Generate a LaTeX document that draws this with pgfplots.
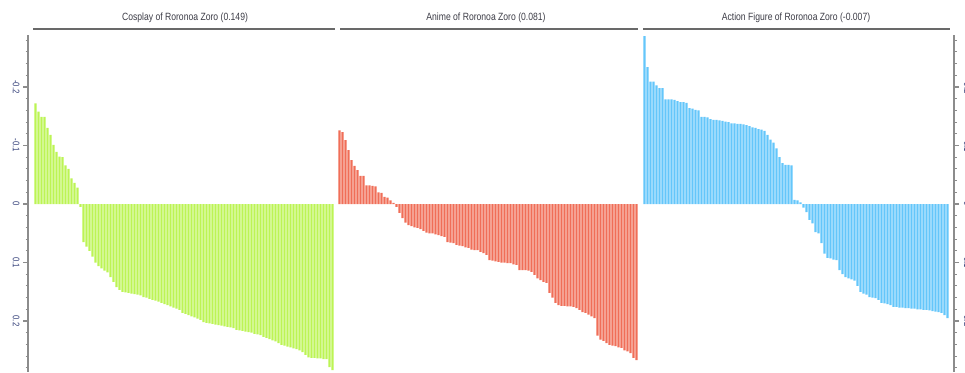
\documentclass[border=0pt]{standalone}
\usepackage{fontspec}
\setmainfont{Liberation Sans}
\newfontfamily\condensed[FakeStretch=0.82]{Liberation Sans}
\usepackage{pgfplots}
\usepackage{pgfplotstable}
\pgfplotsset{compat=1.18}
\definecolor{cgreen}{RGB}{188,244,84}
\definecolor{cred}{RGB}{240,110,88}
\definecolor{cblue}{RGB}{100,198,250}
\definecolor{axgray}{RGB}{140,140,140}
\definecolor{linegray}{RGB}{105,105,105}
\definecolor{lab}{RGB}{50,62,120}
\definecolor{ttl}{RGB}{60,60,70}

\pgfplotstableread{
v
-0.172
-0.158
-0.149
-0.149
-0.130
-0.118
-0.101
-0.089
-0.081
-0.080
-0.066
-0.060
-0.044
-0.036
-0.028
0.005
0.065
0.073
0.080
0.090
0.100
0.106
0.110
0.114
0.117
0.125
0.133
0.142
0.147
0.150
0.151
0.152
0.153
0.154
0.155
0.156
0.159
0.160
0.162
0.164
0.165
0.167
0.169
0.171
0.173
0.175
0.177
0.179
0.181
0.186
0.188
0.190
0.192
0.194
0.196
0.198
0.202
0.203
0.204
0.205
0.206
0.207
0.208
0.209
0.210
0.211
0.212
0.215
0.216
0.217
0.218
0.219
0.220
0.222
0.223
0.224
0.227
0.229
0.231
0.233
0.235
0.238
0.241
0.242
0.244
0.245
0.247
0.248
0.250
0.253
0.258
0.262
0.263
0.263
0.264
0.264
0.265
0.265
0.279
0.284
}\cosplaydata

\pgfplotstableread{
v
-0.126
-0.123
-0.109
-0.092
-0.075
-0.065
-0.058
-0.048
-0.048
-0.032
-0.032
-0.031
-0.030
-0.020
-0.019
-0.012
-0.011
-0.006
-0.002
0.005
0.015
0.024
0.032
0.036
0.038
0.040
0.041
0.043
0.046
0.049
0.050
0.050
0.052
0.053
0.055
0.056
0.065
0.066
0.067
0.070
0.071
0.072
0.074
0.075
0.078
0.079
0.079
0.082
0.084
0.087
0.096
0.097
0.098
0.099
0.100
0.100
0.101
0.101
0.103
0.104
0.113
0.113
0.113
0.114
0.116
0.121
0.127
0.130
0.133
0.135
0.152
0.160
0.169
0.173
0.174
0.174
0.175
0.175
0.176
0.178
0.181
0.185
0.186
0.189
0.192
0.195
0.225
0.232
0.234
0.238
0.241
0.242
0.243
0.245
0.246
0.250
0.252
0.255
0.263
0.267
}\animedata

\pgfplotstableread{
v
-0.287
-0.234
-0.209
-0.209
-0.203
-0.198
-0.198
-0.179
-0.179
-0.179
-0.178
-0.176
-0.174
-0.174
-0.173
-0.164
-0.163
-0.161
-0.160
-0.149
-0.149
-0.148
-0.145
-0.144
-0.144
-0.143
-0.142
-0.141
-0.140
-0.138
-0.138
-0.137
-0.137
-0.136
-0.135
-0.133
-0.131
-0.130
-0.128
-0.127
-0.125
-0.118
-0.110
-0.105
-0.095
-0.080
-0.070
-0.067
-0.067
-0.066
-0.007
-0.006
-0.003
0.006
0.014
0.027
0.033
0.048
0.050
0.067
0.085
0.092
0.093
0.095
0.096
0.113
0.120
0.125
0.127
0.129
0.131
0.140
0.150
0.153
0.155
0.159
0.160
0.161
0.164
0.169
0.170
0.171
0.173
0.176
0.176
0.177
0.177
0.178
0.178
0.179
0.179
0.180
0.180
0.181
0.181
0.182
0.183
0.184
0.185
0.186
0.190
0.195
}\actiondata

\pgfplotsset{
  panel/.style={
    scale only axis, height=337pt,
    ymin=-0.2889, ymax=0.2872, y dir=reverse,
    ybar, bar width=0.82,
    anchor=south west,
    ytick={-0.2,-0.1,0,0.1,0.2},
    yticklabels={-0.2,-0.1,0,0.1,0.2},
    minor ytick={-0.28,-0.26,-0.24,-0.22,-0.18,-0.16,-0.14,-0.12,-0.08,-0.06,-0.04,-0.02,0.02,0.04,0.06,0.08,0.12,0.14,0.16,0.18,0.22,0.24,0.26,0.28},
    hide x axis,
  },
  yax/.style={
    axis y line*=#1,
    tick align=outside,
    major tick length=5pt, minor tick length=2.5pt,
    tick style={axgray, line width=0.9pt},
    major tick style={line width=1.2pt},
    y axis line style={axgray, line width=1.4pt},
    yticklabel style={font=\condensed\fontsize{9.5}{10}\selectfont, text=lab, rotate=-90},
  }
}

\begin{document}
\begin{tikzpicture}
% Panel 1
\begin{axis}[panel, at={(28pt,-372pt)}, width=306pt, xmin=-2.5, xmax=99.5,
  yax=left, yticklabel style={anchor=north}]
\addplot[fill=cgreen, draw=none] table[x expr=\coordindex, y=v] {\cosplaydata};
\end{axis}
% Panel 2
\begin{axis}[panel, at={(338pt,-372pt)}, width=300pt, xmin=-0.5, xmax=99.5,
  hide y axis]
\addplot[fill=cred, draw=none] table[x expr=\coordindex, y=v] {\animedata};
\end{axis}
% Panel 3
\begin{axis}[panel, at={(643pt,-372pt)}, width=311pt, xmin=-0.5, xmax=103.17,
  yax=right, yticklabel style={anchor=south}, yticklabel shift=1.5pt]
\addplot[fill=cblue, draw=none] table[x expr=\coordindex, y=v] {\actiondata};
\end{axis}
% title rules and titles
\draw[linegray, line width=1.5pt] (33pt,-29pt) -- (335pt,-29pt);
\draw[linegray, line width=1.5pt] (340pt,-29pt) -- (638pt,-29pt);
\draw[linegray, line width=1.5pt] (643pt,-29pt) -- (950pt,-29pt);
\node[font=\condensed\fontsize{10.5}{12}\selectfont, text=ttl] at (185pt,-18pt) {Cosplay of Roronoa Zoro (0.149)};
\node[font=\condensed\fontsize{10.5}{12}\selectfont, text=ttl] at (486pt,-18pt) {Anime of Roronoa Zoro (0.081)};
\node[font=\condensed\fontsize{10.5}{12}\selectfont, text=ttl] at (796pt,-18pt) {Action Figure of Roronoa Zoro (-0.007)};
\pgfresetboundingbox
\path[use as bounding box] (0pt,0pt) rectangle (965pt,-372pt);
\end{tikzpicture}
\end{document}
